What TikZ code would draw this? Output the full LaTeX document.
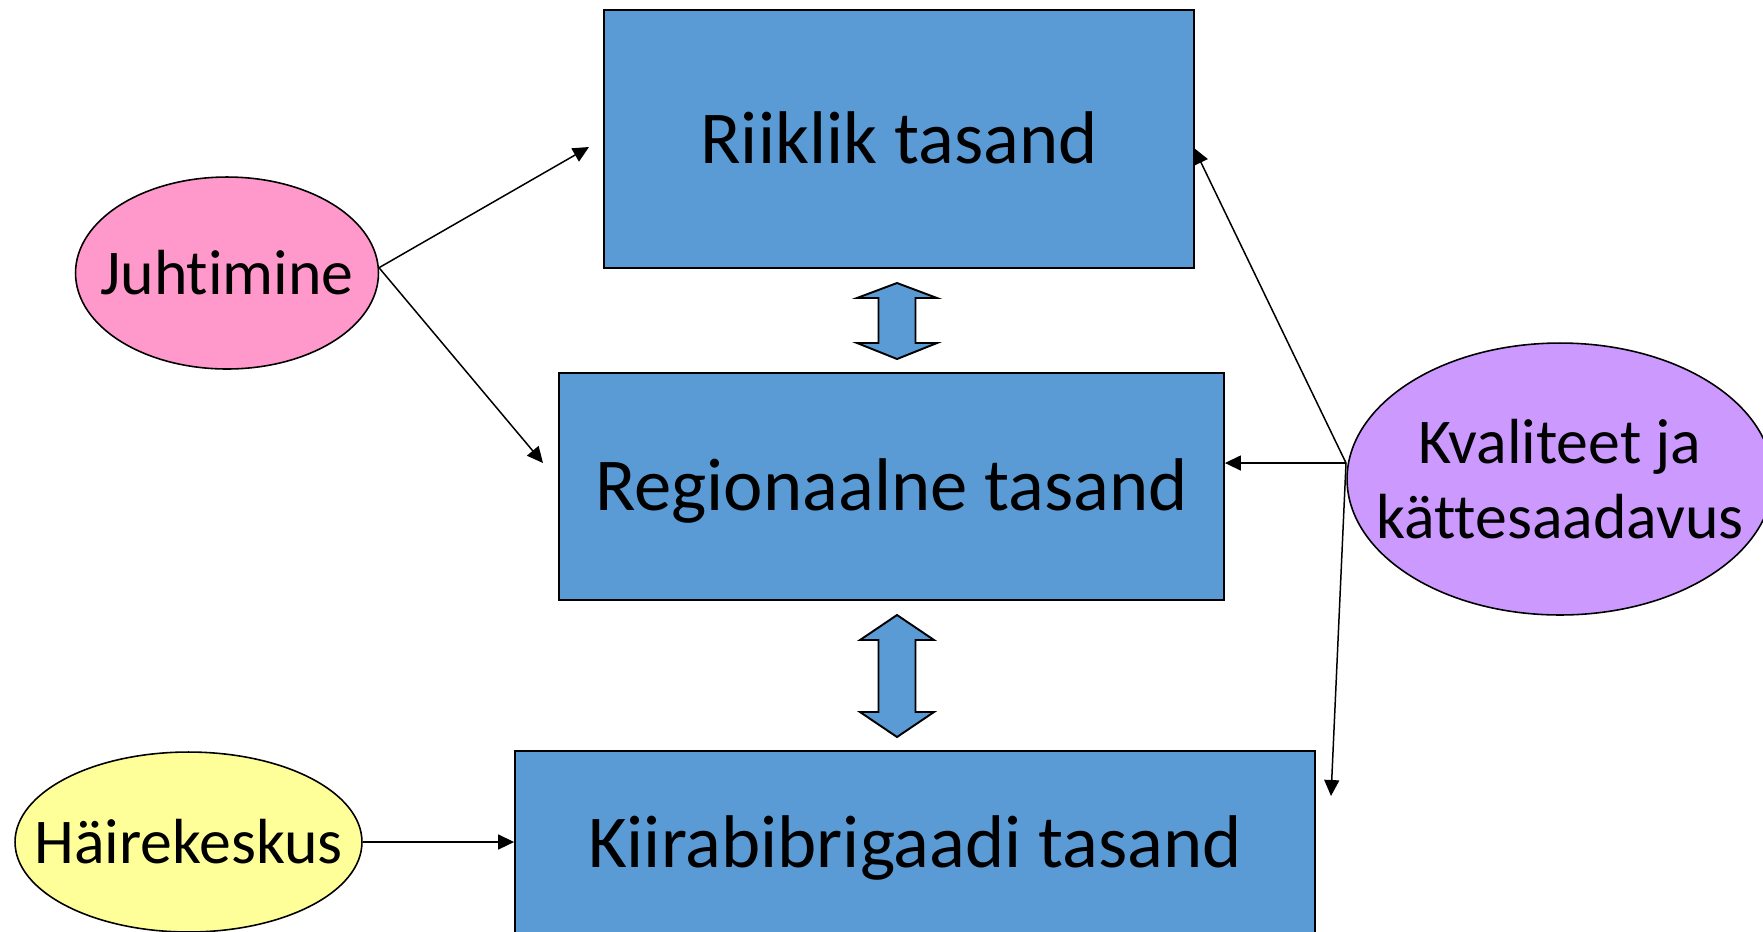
\documentclass[tikz,border=0pt]{standalone}
\usepackage{fontspec}
\setmainfont{Carlito}[Ligatures=NoCommon]
\usetikzlibrary{shapes.geometric,arrows.meta}
\definecolor{boxblue}{HTML}{5B9BD5}
\definecolor{juhtpink}{HTML}{FF99CC}
\definecolor{hairyellow}{HTML}{FFFF99}
\definecolor{kvallilac}{HTML}{CC99FF}
\begin{document}
\begin{tikzpicture}[x=0.02cm,y=-0.02cm,
    level/.style={draw,fill=boxblue,line width=1.1pt,inner sep=0pt,
        text height=27.4pt,text depth=0pt,
        font=\fontsize{42.5}{51}\selectfont},
    oval/.style={draw,ellipse,line width=0.9pt,inner sep=0pt},
    ovaltext/.style={align=center,inner sep=0pt,font=\fontsize{36.3}{42.7}\selectfont},
    conn/.style={line width=0.85pt,-{Triangle[length=0.32cm,width=0.3cm]}},
    blockarrow/.style={draw,fill=boxblue,line width=1.1pt,line join=miter}]
        \useasboundingbox (0,0) rectangle (1763,931);
        %% Levels
        \node[level,minimum width=11.8cm,minimum height=5.16cm] (riik) at (899,139) {Riiklik tasand};
        \node[level,minimum width=13.3cm,minimum height=4.54cm] (reg) at (891.5,486.5) {Regionaalne tasand};
        \node[level,minimum width=16cm,minimum height=3.68cm] (kiir) at (915,843) {Kiirabibrigaadi tasand};
        %% Between levels
        \draw[blockarrow] (897,283) -- (937,298) -- (915.5,298) -- (915.5,343) -- (937,343) -- (897,359)
            -- (857,343) -- (878.5,343) -- (878.5,298) -- (857,298) -- cycle;
        \draw[blockarrow] (897,615) -- (934,640) -- (915.5,640) -- (915.5,712) -- (934,712) -- (897,737)
            -- (860,712) -- (878.5,712) -- (878.5,640) -- (860,640) -- cycle;
        %% Juhtimine
        \node[oval,fill=juhtpink,minimum width=6.06cm,minimum height=3.84cm,
            label={[ovaltext]center:Juhtimine}] (juht) at (227,273) {};
        \coordinate (juhtriik) at (589,147);
        \coordinate (juhtreg) at (543,463);
        \draw[conn] (juht.2) -- (juhtriik);
        \draw[conn] (juht.2) -- (juhtreg);
        %% Haire
        \node[oval,fill=hairyellow,minimum width=6.94cm,minimum height=3.6cm,
            label={[ovaltext]center:Häirekeskus}] (haire) at (188.5,842) {};
        \draw[conn] (haire.east) -- (haire.east -| kiir.west);
        %% Kvaliteet
        \node[oval,fill=kvallilac,minimum width=8.52cm,minimum height=5.44cm,
            label={[ovaltext]center:Kvaliteet ja\\kättesaadavus}] (kval) at (1560,479) {};
        \coordinate (kvalout) at (1346,463);
        \coordinate (kvalriik) at (1194,148);
        \coordinate (kvalkiir) at (1331,796);
        \draw[conn] (kvalout) -- (kvalriik);
        \draw[conn] (kvalout) -- (reg.east |- kvalout);
        \draw[conn] (kvalout) -- (kvalkiir);
\end{tikzpicture}
\end{document}
